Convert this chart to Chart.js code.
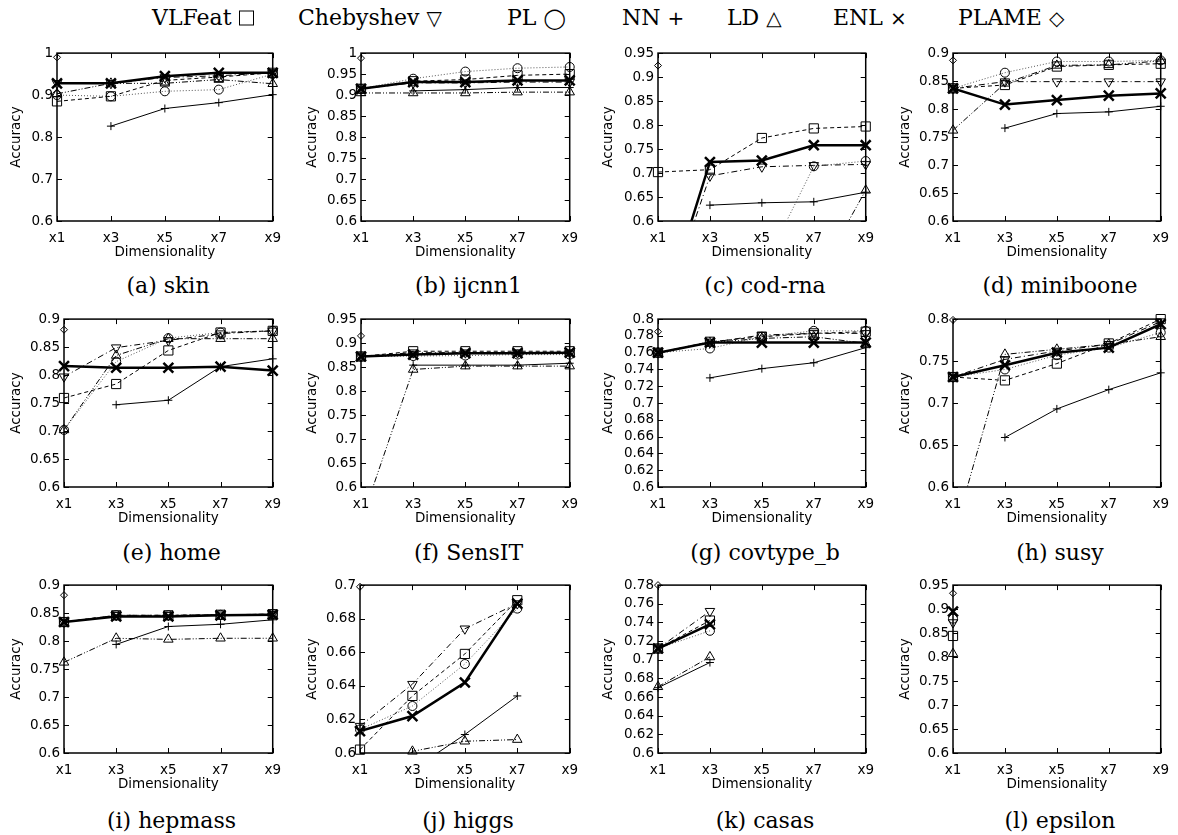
<!DOCTYPE html>
<html>
<head>
<meta charset="utf-8">
<script src="https://cdn.jsdelivr.net/npm/chart.js@4.4.1/dist/chart.umd.min.js"></script>
<style>
  body { margin: 0; background: #fff; width: 1178px; height: 835px; position: relative; overflow: hidden; }
  canvas { position: absolute; }
  .leg { position: absolute; top: 17px; transform: translateY(-50%); font: 22px 'DejaVu Serif'; white-space: nowrap; color: #000; }
  .leg span { font: 20px 'DejaVu Sans'; color: #000; }
  .leg i { display: inline-block; width: 13px; height: 13px; border: 1.2px solid #000; vertical-align: -1px; }
  .cap { position: absolute; transform: translate(-50%, -50%); font: 22px 'DejaVu Serif'; white-space: nowrap; color: #000; }
</style>
</head>
<body>
<script>
// categories and panels
const dims = ['x1', 'x3', 'x5', 'x7', 'x9'];
const panels = ['(a) skin', '(b) ijcnn1', '(c) cod-rna', '(d) miniboone', '(e) home', '(f) SensIT',
                '(g) covtype_b', '(h) susy', '(i) hepmass', '(j) higgs', '(k) casas', '(l) epsilon'];
const yMin = 0.6;
const yMax = [1, 1, 0.95, 0.9, 0.9, 0.95, 0.8, 0.8, 0.9, 0.7, 0.78, 0.95];
const yStep = [0.1, 0.05, 0.05, 0.05, 0.05, 0.05, 0.02, 0.05, 0.05, 0.02, 0.02, 0.05];

// one row per panel, one value per dimensionality
const vlfeat = [
  [0.885, 0.897, 0.935, 0.943, 0.953],
  [0.915, 0.933, 0.937, 0.947, 0.950],
  [0.702, 0.707, 0.773, 0.793, 0.797],
  [0.837, 0.843, 0.876, 0.879, 0.881],
  [0.759, 0.784, 0.844, 0.876, 0.879],
  [0.872, 0.883, 0.883, 0.883, 0.883],
  [0.760, 0.773, 0.779, 0.783, 0.785],
  [0.731, 0.727, 0.747, 0.771, 0.800],
  [0.834, 0.846, 0.846, 0.847, 0.848],
  [0.602, 0.634, 0.659, 0.691, null],
  [0.712, 0.742, null, null, null],
  [0.844, null, null, null, null]
];
const chebyshev = [
  [0.928, 0.928, 0.942, 0.946, 0.953],
  [0.915, 0.929, 0.929, 0.931, 0.931],
  [0.378, 0.694, 0.713, 0.716, 0.718],
  [0.837, 0.849, 0.849, 0.849, 0.849],
  [0.797, 0.849, 0.862, 0.874, 0.879],
  [0.872, 0.880, 0.880, 0.880, 0.880],
  [0.760, 0.772, 0.781, 0.783, 0.783],
  [0.731, 0.752, 0.762, 0.770, 0.797],
  [0.834, 0.846, 0.846, 0.847, 0.848],
  [0.616, 0.641, 0.674, 0.689, null],
  [0.712, 0.752, null, null, null],
  [0.872, null, null, null, null]
];
const pl = [
  [0.900, 0.897, 0.909, 0.913, 0.950],
  [0.915, 0.939, 0.956, 0.964, 0.967],
  [0.450, 0.480, 0.496, 0.714, 0.725],
  [0.837, 0.865, 0.885, 0.885, 0.887],
  [0.702, 0.824, 0.866, 0.876, 0.879],
  [0.872, 0.873, 0.874, 0.876, 0.876],
  [0.760, 0.765, 0.779, 0.786, 0.786],
  [0.731, 0.740, 0.757, 0.766, 0.784],
  [0.834, 0.846, 0.846, 0.847, 0.848],
  [0.614, 0.628, 0.653, 0.686, null],
  [0.712, 0.731, null, null, null],
  [0.880, null, null, null, null]
];
const nn = [
  [null, 0.826, 0.868, 0.882, 0.901],
  [null, 0.910, 0.913, 0.918, 0.918],
  [null, 0.633, 0.638, 0.640, 0.660],
  [null, 0.766, 0.792, 0.795, 0.805],
  [null, 0.747, 0.755, 0.815, 0.829],
  [null, 0.854, 0.854, 0.854, 0.858],
  [null, 0.730, 0.741, 0.748, 0.766],
  [null, 0.659, 0.693, 0.716, 0.736],
  [null, 0.794, 0.826, 0.830, 0.838],
  [null, 0.590, 0.611, 0.634, null],
  [0.670, 0.697, null, null, null],
  [null, null, null, null, null]
];
const ld = [
  [0.903, 0.928, 0.928, 0.937, 0.927],
  [0.905, 0.905, 0.905, 0.907, 0.907],
  [0.400, 0.420, 0.450, 0.470, 0.664],
  [0.762, 0.846, 0.878, 0.879, 0.886],
  [0.702, 0.835, 0.865, 0.865, 0.865],
  [0.527, 0.845, 0.852, 0.852, 0.852],
  [0.760, 0.772, 0.777, 0.779, 0.771],
  [0.540, 0.758, 0.764, 0.770, 0.779],
  [0.762, 0.805, 0.803, 0.805, 0.805],
  [0.550, 0.601, 0.607, 0.608, null],
  [0.671, 0.703, null, null, null],
  [0.807, null, null, null, null]
];
const enl = [
  [0.928, 0.928, 0.945, 0.953, 0.953],
  [0.915, 0.931, 0.931, 0.935, 0.935],
  [0.377, 0.723, 0.726, 0.758, 0.758],
  [0.837, 0.808, 0.816, 0.824, 0.828],
  [0.816, 0.813, 0.813, 0.815, 0.808],
  [0.872, 0.876, 0.879, 0.879, 0.880],
  [0.760, 0.772, 0.772, 0.772, 0.772],
  [0.731, 0.745, 0.760, 0.766, 0.794],
  [0.834, 0.844, 0.844, 0.846, 0.847],
  [0.613, 0.622, 0.642, 0.689, null],
  [0.712, 0.738, null, null, null],
  [0.895, null, null, null, null]
];
const plame = [0.990, 0.988, 0.924, 0.887, 0.881, 0.915, 0.785, 0.799, 0.882, 0.699, 0.780, 0.933];

// series look (sym null = drawn as an outlined box)
const series = [
  { name: 'VLFeat', sym: null, data: vlfeat, style: 'rect', r: 6.5, dash: [4, 3], w: 1, line: '#000' },
  { name: 'Chebyshev', sym: '\u25BD', data: chebyshev, style: 'triangle', rot: 180, r: 5.5, dash: [6, 3, 1, 3], w: 1, line: '#000' },
  { name: 'PL', sym: '\u25EF', data: pl, style: 'circle', r: 4.5, dash: [1, 2], w: 1, line: '#555' },
  { name: 'NN', sym: '+', data: nn, style: 'cross', r: 4, dash: [], w: 1, line: '#000' },
  { name: 'LD', sym: '\u25B3', data: ld, style: 'triangle', r: 5.5, dash: [6, 2, 1, 2, 1, 2], w: 1, line: '#000' },
  { name: 'ENL', sym: '\u00D7', data: enl, style: 'crossRot', r: 7, dash: [], w: 2.5, line: '#000' },
  { name: 'PLAME', sym: '\u25C7', data: plame.map(v => [v, null, null, null, null]), style: 'rectRot', r: 3.5, dash: [], w: 1, line: '#000' }
];

// layout of the grid
const colLeft = [0, 296, 592, 889];
const plotRight = [279, 576, 872, 1167];
const plotLeft = [57, 361, 658, 953, 64, 361, 658, 953, 64, 360, 658, 953];
const plotTop = [51, 317, 583];
const capY = [285, 552, 820];
const legX = [152, 298, 507, 622, 727, 833, 958];
const plotH = 170, padTop = 10, xAxisH = 40, padRight = 11;
const font = { family: 'DejaVu Sans', size: 13.5 };

// legend on top
series.forEach((s, k) => {
  const el = document.createElement('div');
  el.className = 'leg';
  el.style.left = legX[k] + 'px';
  el.textContent = s.name + ' ';
  const sym = document.createElement(s.sym ? 'span' : 'i');
  if (s.sym) sym.textContent = s.sym;
  el.appendChild(sym);
  document.body.appendChild(el);
});

// border box with inward ticks, like gnuplot
const boxTicks = {
  id: 'boxTicks',
  beforeDatasetsDraw(chart) {
    const { ctx, chartArea: a, scales: { x, y } } = chart;
    ctx.save();
    ctx.strokeStyle = '#000';
    ctx.lineWidth = 1;
    ctx.beginPath();
    y.ticks.forEach((t, i) => {
      const py = Math.round(y.getPixelForTick(i)) + 0.5;
      ctx.moveTo(a.left, py); ctx.lineTo(a.left + 5, py);
      ctx.moveTo(a.right, py); ctx.lineTo(a.right - 5, py);
    });
    x.ticks.forEach((t, i) => {
      const px = Math.round(x.getPixelForTick(i)) + 0.5;
      ctx.moveTo(px, a.bottom); ctx.lineTo(px, a.bottom - 5);
      ctx.moveTo(px, a.top); ctx.lineTo(px, a.top + 5);
    });
    ctx.stroke();
    ctx.lineWidth = 1.5;
    ctx.strokeRect(a.left, a.top, a.right - a.left, a.bottom - a.top);
    ctx.restore();
  }
};

panels.forEach((title, p) => {
  const col = p % 4, row = Math.floor(p / 4);
  const left = colLeft[col];
  const width = plotRight[col] + padRight - left;
  const height = padTop + plotH + xAxisH;
  const yW = plotLeft[p] - left;

  const canvas = document.createElement('canvas');
  canvas.width = width;
  canvas.height = height;
  canvas.style.left = left + 'px';
  canvas.style.top = (plotTop[row] - padTop) + 'px';
  document.body.appendChild(canvas);

  const datasets = [];
  series.forEach((s, k) => {
    const vals = s.data[p];
    // the line, clipped to the plot box
    datasets.push({
      data: vals, order: 10 + (k === 5 ? 0 : k + 1),
      borderColor: s.line, borderWidth: s.w, borderDash: s.dash,
      pointRadius: 0, fill: false, tension: 0, clip: 0
    });
    // the markers, allowed to overhang the box
    datasets.push({
      data: vals, order: k, showLine: false, clip: false,
      pointStyle: s.style, rotation: s.rot || 0,
      pointRadius: c => (c.raw == null || c.raw < yMin - 0.001) ? 0 : s.r,
      borderColor: '#000', backgroundColor: 'rgba(0,0,0,0)', pointBorderWidth: s.w
    });
  });

  new Chart(canvas.getContext('2d'), {
    type: 'line',
    data: { labels: dims, datasets },
    options: {
      responsive: false,
      animation: false,
      layout: { padding: { top: padTop, right: padRight, left: 0, bottom: 0 } },
      plugins: { legend: { display: false }, tooltip: { enabled: false } },
      scales: {
        x: {
          type: 'category', offset: false,
          grid: { display: false, drawTicks: false }, border: { display: false },
          ticks: { color: '#000', font, padding: 9, maxRotation: 0, autoSkip: false },
          title: { display: true, text: 'Dimensionality', color: '#000', font, padding: { top: 0, bottom: 0 } },
          afterFit: s => { s.height = xAxisH; }
        },
        y: {
          min: yMin, max: yMax[p],
          grid: { display: false, drawTicks: false }, border: { display: false },
          ticks: { stepSize: yStep[p], autoSkip: false, color: '#000', font, padding: 4,
                   callback: v => String(+v.toFixed(2)) },
          title: { display: true, text: 'Accuracy', color: '#000', font, padding: { top: 8, bottom: 0 } },
          afterFit: s => { s.width = yW; }
        }
      }
    },
    plugins: [boxTicks]
  });

  const cap = document.createElement('div');
  cap.className = 'cap';
  cap.textContent = title;
  cap.style.left = ((plotLeft[p] + plotRight[col]) / 2) + 'px';
  cap.style.top = capY[row] + 'px';
  document.body.appendChild(cap);
});
</script>
</body>
</html>
